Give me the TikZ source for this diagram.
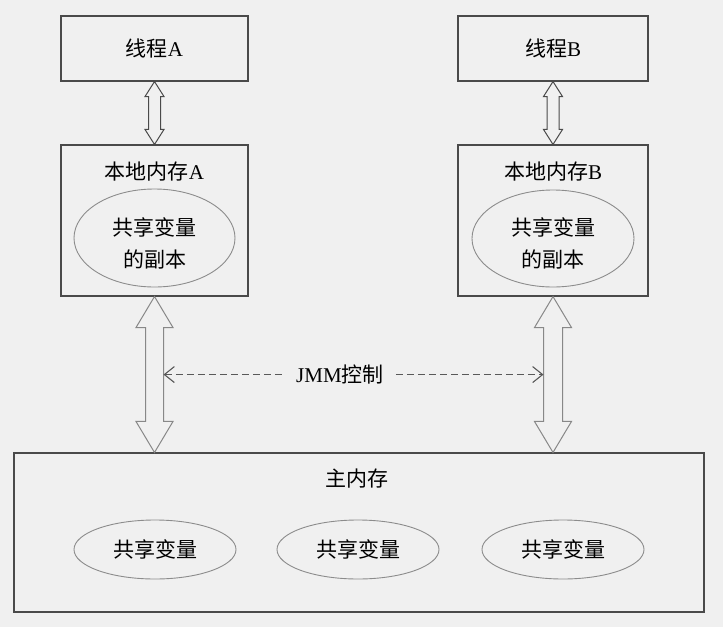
\documentclass[tikz,border=0pt]{standalone}
\usepackage{fontspec}
\setmainfont{Liberation Serif}
\newfontfamily\cjk{Noto Sans CJK SC}
\usetikzlibrary{calc,shapes.geometric,arrows.meta}
\definecolor{bgc}{HTML}{F0F0F0}
\definecolor{boxc}{HTML}{4A4A4A}
\definecolor{ellc}{HTML}{8C8C8C}
\definecolor{arrc}{HTML}{888888}
\tikzset{
  x=1pt,y=1pt,
  every node/.style={font=\fontsize{21}{32}\selectfont, text=black},
  boxnode/.style={draw=boxc, line width=1.1pt, rectangle, inner sep=0pt},
  ellnode/.style={draw=ellc, line width=0.9pt, ellipse, inner sep=0pt, align=center},
  fatarrow/.style={draw=#1, line width=1pt, line join=miter},
  jmmline/.style={draw=black!65, line width=1.1pt, dash pattern=on 7pt off 4pt},
}
\newcommand\fatarr[6]{%
  \path[fatarrow=#6] let \p1=(#1), \p2=(#2) in
   (\x1,\y1) -- (\x1+#4pt,\y1-#5pt) -- (\x1+#3pt,\y1-#5pt) -- (\x1+#3pt,\y2+#5pt)
   -- (\x1+#4pt,\y2+#5pt) -- (\x1,\y2) -- (\x1-#4pt,\y2+#5pt) -- (\x1-#3pt,\y2+#5pt)
   -- (\x1-#3pt,\y1-#5pt) -- (\x1-#4pt,\y1-#5pt) -- cycle;}
\begin{document}
\begin{tikzpicture}
\fill[bgc] (0,0) rectangle (723,-627);
\useasboundingbox (0,0) rectangle (723,-627);
% threads
\node[boxnode, minimum width=187pt, minimum height=65pt] (tA) at (154.5,-48.5) {{\cjk 线程}A};
\node[boxnode, minimum width=190pt, minimum height=65pt] (tB) at (553,-48.5) {{\cjk 线程}B};
% local memories
\node[boxnode, minimum width=187pt, minimum height=151pt] (lA) at (154.5,-220.5) {};
\node[boxnode, minimum width=190pt, minimum height=151pt] (lB) at (553,-220.5) {};
\node (lAt) at (154.5,-172) {{\cjk 本地内存}A};
\node (lBt) at (553,-172) {{\cjk 本地内存}B};
\node[ellnode, minimum width=161pt, minimum height=98pt] (eA) at (154.5,-238) {};
\node[ellnode, minimum width=162pt, minimum height=97pt] (eB) at (553,-238.5) {};
\node[align=center] (eAt) at ($(eA)+(0,-5)$) {\cjk 共享变量\\\cjk 的副本};
\node[align=center] (eBt) at ($(eB)+(0,-5)$) {\cjk 共享变量\\\cjk 的副本};
% main memory
\node[boxnode, minimum width=690pt, minimum height=159pt] (mm) at (359,-532.5) {};
\node (mmt) at (357,-479) {\cjk 主内存};
\node[ellnode, minimum width=162pt, minimum height=59pt] (m1) at (155,-549.5) {\cjk 共享变量};
\node[ellnode, minimum width=162pt, minimum height=59pt] (m2) at (358,-549.5) {\cjk 共享变量};
\node[ellnode, minimum width=162pt, minimum height=59pt] (m3) at (563,-549.5) {\cjk 共享变量};
% double arrows
\fatarr{tA.south}{lA.north}{6}{9.5}{15}{boxc}
\fatarr{tB.south}{lB.north}{6}{9.5}{15}{boxc}
\fatarr{lA.south}{lA.south |- mm.north}{9}{18.5}{31}{arrc}
\fatarr{lB.south}{lB.south |- mm.north}{9.5}{18.5}{31}{arrc}
% JMM control
\node[inner xsep=12pt] (jmm) at (340,-374) {JMM{\cjk 控制}};
\coordinate (jl) at ($(lA.south)+(9,-78)$);
\coordinate (jr) at ($(lB.south)+(-9.5,-78)$);
\draw[jmmline, {Straight Barb[length=10pt,width=16pt]}-] (jl) -- (jl -| jmm.west);
\draw[jmmline, -{Straight Barb[length=10pt,width=16pt]}] (jr -| jmm.east) -- (jr);
\end{tikzpicture}
\end{document}
